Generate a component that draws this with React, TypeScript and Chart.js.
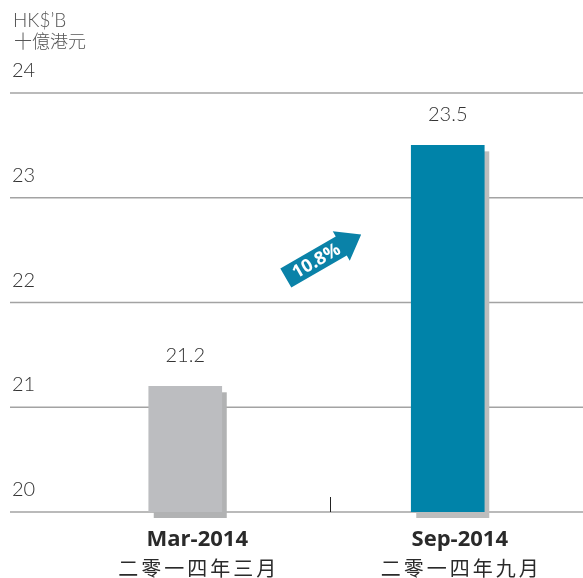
import React, { useEffect, useRef } from 'react';
import { Chart, registerables } from 'chart.js';

Chart.register(...registerables);

const categories = ['Mar-2014', 'Sep-2014'];
const categoriesZh = ['二零一四年三月', '二零一四年九月'];
const values = [21.2, 23.5];
const valueLabels = ['21.2', '23.5'];
const yTicks = [20, 21, 22, 23, 24];
const barColors = ['#bcbdc0', '#0083a9'];
const shadowColors = ['#b1b2b3', '#bdbdbd'];
const unitLabels = ['HK$’B', '十億港元'];
const growthLabel = '10.8%';

const FONT = 'Lato, "Noto Sans CJK TC", sans-serif';
const BOLD = '"Open Sans", Lato, sans-serif';
const CJK = '"Noto Sans CJK TC", sans-serif';

function drawSpaced(ctx: CanvasRenderingContext2D, text: string, cx: number, cy: number, spacing: number) {
  const chars = Array.from(text);
  const widths = chars.map((c) => ctx.measureText(c).width);
  const total = widths.reduce((a, b) => a + b, 0) + spacing * (chars.length - 1);
  let x = cx - total / 2;
  ctx.textAlign = 'left';
  chars.forEach((c, i) => {
    ctx.fillText(c, x, cy);
    x += widths[i] + spacing;
  });
}

const decorPlugin = {
  id: 'decor',
  beforeDatasetsDraw(chart: any) {
    const ctx: CanvasRenderingContext2D = chart.ctx;
    const ys = chart.scales.y;
    const xs = chart.scales.x;
    ctx.save();
    ctx.strokeStyle = '#a3a3a3';
    ctx.lineWidth = 1.5;
    ctx.fillStyle = '#333333';
    ctx.font = '300 20px ' + FONT;
    ctx.textAlign = 'left';
    ctx.textBaseline = 'alphabetic';
    yTicks.forEach((t) => {
      const py = ys.getPixelForValue(t);
      ctx.beginPath();
      ctx.moveTo(10, py);
      ctx.lineTo(chart.width, py);
      ctx.stroke();
      ctx.fillText(String(t), 12, py - 16);
    });
    const base = ys.getPixelForValue(yTicks[0]);
    const meta = chart.getDatasetMeta(0);
    meta.data.forEach((el: any, i: number) => {
      const w = el.width;
      ctx.fillStyle = shadowColors[i];
      ctx.fillRect(el.x - w / 2 + 5, el.y + 6, w, base - el.y);
    });
    const tx = Math.round(xs.getPixelForValue(0.55)) + 0.5;
    ctx.strokeStyle = '#222';
    ctx.lineWidth = 1;
    ctx.beginPath();
    ctx.moveTo(tx, base - 15);
    ctx.lineTo(tx, base);
    ctx.stroke();
    ctx.restore();
  },
  afterDatasetsDraw(chart: any) {
    const ctx: CanvasRenderingContext2D = chart.ctx;
    const ys = chart.scales.y;
    const xs = chart.scales.x;
    const meta = chart.getDatasetMeta(0);
    ctx.save();
    ctx.textBaseline = 'middle';
    ctx.fillStyle = '#333333';
    ctx.font = '300 20px ' + FONT;
    ctx.textAlign = 'center';
    meta.data.forEach((el: any, i: number) => {
      ctx.fillText(valueLabels[i], el.x, el.y - 31);
    });
    meta.data.forEach((el: any, i: number) => {
      const cx = el.x + 12;
      ctx.fillStyle = '#2a2a2a';
      ctx.font = 'bold 22px ' + BOLD;
      ctx.textAlign = 'center';
      ctx.fillText(categories[i], cx, 540);
      ctx.font = '20px ' + CJK;
      drawSpaced(ctx, categoriesZh[i], cx, 568, 3);
    });
    ctx.fillStyle = '#555555';
    ctx.font = '300 19px ' + FONT;
    ctx.textAlign = 'left';
    ctx.fillText(unitLabels[0], 13, 21);
    ctx.font = '300 18px ' + CJK;
    ctx.fillText(unitLabels[1], 14, 41);
    const ax = xs.getPixelForValue(0.525);
    const ay = ys.getPixelForValue(22.44);
    ctx.translate(ax, ay);
    ctx.rotate((-30 * Math.PI) / 180);
    ctx.fillStyle = '#0a82a8';
    ctx.beginPath();
    ctx.moveTo(-43, -11);
    ctx.lineTo(21, -11);
    ctx.lineTo(21, -17);
    ctx.lineTo(44, 0);
    ctx.lineTo(21, 17);
    ctx.lineTo(21, 11);
    ctx.lineTo(-43, 11);
    ctx.closePath();
    ctx.fill();
    ctx.fillStyle = '#ffffff';
    ctx.font = 'bold 18px ' + BOLD;
    ctx.textAlign = 'center';
    ctx.fillText(growthLabel, -8, 1);
    ctx.restore();
  },
};

export default function App() {
  const ref = useRef<HTMLCanvasElement | null>(null);
  useEffect(() => {
    if (!ref.current) return;
    const chart = new Chart(ref.current, {
      type: 'bar',
      data: {
        labels: categories,
        datasets: [
          {
            data: values,
            backgroundColor: barColors,
            borderWidth: 0,
            barThickness: 73,
          },
        ],
      },
      options: {
        animation: false,
        responsive: false,
        devicePixelRatio: 1,
        layout: { padding: { left: 54, right: 4, top: 93, bottom: 66 } },
        plugins: { legend: { display: false }, tooltip: { enabled: false } },
        scales: {
          x: { display: false },
          y: { display: false, min: 20, max: 24 },
        },
      },
      plugins: [decorPlugin],
    });
    return () => chart.destroy();
  }, []);
  return (
    <div style={{ position: 'fixed', left: 0, top: 0, width: 583, height: 578, background: '#fff' }}>
      <canvas ref={ref} width={583} height={578} />
    </div>
  );
}
